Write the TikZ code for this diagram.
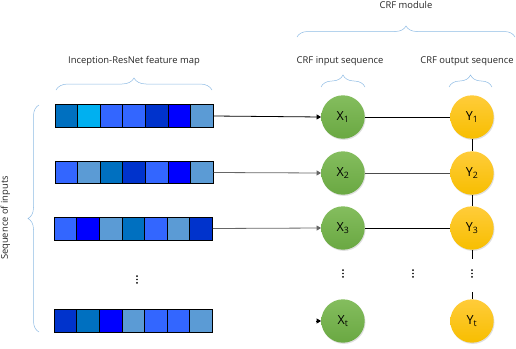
\documentclass[tikz,border=0pt]{standalone}
\usepackage{fontspec}
\setmainfont{Open Sans}
\usetikzlibrary{arrows.meta,decorations.pathreplacing,shadows}
\definecolor{cA}{HTML}{0070C0}
\definecolor{cB}{HTML}{00B0F0}
\definecolor{cC}{HTML}{3366FF}
\definecolor{cD}{HTML}{0033CC}
\definecolor{cE}{HTML}{0000FF}
\definecolor{cF}{HTML}{5B9BD5}
\definecolor{braceblue}{HTML}{8DBBE4}
\definecolor{gTop}{HTML}{84BD5E}
\definecolor{gBot}{HTML}{6AA842}
\definecolor{yTop}{HTML}{FFCC3A}
\definecolor{yBot}{HTML}{F7BE00}
\tikzset{
  cell/.style={draw=black, line width=0.9pt, inner sep=0pt, minimum width=22.6pt},
  xnode/.style={circle, minimum size=43.4pt, inner sep=0pt, top color=gTop, bottom color=gBot,
    drop shadow={shadow xshift=0.8pt, shadow yshift=-1.2pt, opacity=0.25}, font=\fontsize{12.5}{14}\selectfont},
  ynode/.style={circle, minimum size=43.4pt, inner sep=0pt, top color=yTop, bottom color=yBot,
    drop shadow={shadow xshift=0.8pt, shadow yshift=-1.2pt, opacity=0.25}, font=\fontsize{12.5}{14}\selectfont},
  lbl/.style={font=\fontsize{9.4}{11}\selectfont, text=black!85, inner sep=0pt},
  curly/.style={draw=braceblue, line width=0.5pt, decorate},
  conn/.style={draw=black, line width=0.8pt},
  arr/.style={conn, -{Triangle[length=4.5pt,width=5pt]}},
  dotmark/.style={fill=black, draw=none, circle, inner sep=0pt, minimum size=1.9pt},
}
\newcommand\featrow[5]{%
  \foreach \c [count=\i] in {#5} {
    \node[cell, fill=\c, minimum height=#4pt] (#1c\i) at ({#2+(\i-0.5)*22.6},#3) {};
  }%
}
\newcommand\vdotsat[3]{%
  \foreach \k in {-1,0,1} {
    \node[dotmark] (#1\k) at (#2,{#3+3.4*\k}) {};
  }%
}
\begin{document}
\begin{tikzpicture}[x=1pt,y=-1pt]
\useasboundingbox (0,0) rectangle (516,348);

% feature map rows
\featrow{ra}{55}{116}{23.4}{cA,cB,cC,cC,cD,cE,cF}
\featrow{rb}{55}{172.5}{21.6}{cC,cF,cA,cD,cC,cE,cF}
\featrow{rc}{54.3}{228.5}{23}{cC,cE,cF,cA,cC,cF,cD}
\featrow{rd}{54.3}{320.7}{23}{cD,cA,cE,cF,cC,cC,cF}

% CRF nodes
\node[xnode] (X1) at (343,117) {X\textsubscript{1}};
\node[xnode] (X2) at (343,173) {X\textsubscript{2}};
\node[xnode] (X3) at (343,228) {X\textsubscript{3}};
\node[xnode] (Xt) at (343,321) {X\textsubscript{t}};
\node[ynode] (Y1) at (472,117) {Y\textsubscript{1}};
\node[ynode] (Y2) at (472,173) {Y\textsubscript{2}};
\node[ynode] (Y3) at (472,228) {Y\textsubscript{3}};
\node[ynode] (Yt) at (472,321) {Y\textsubscript{t}};

% dots
\vdotsat{da}{137}{279.5}
\vdotsat{db}{343}{273.5}
\vdotsat{dc}{413}{273.5}
\vdotsat{dd}{472}{273.5}

% connectors
\draw[arr] (rac7.east) -- (X1.west);
\draw[arr, draw=black!60] (rbc7.east) -- (X2.west);
\draw[arr, draw=black!60] (rcc7.east) -- (X3.west);
\coordinate (rdin) at (316,321);
\draw[arr] (rdin) -- (Xt.west);

\draw[conn] (X1.east) -- (Y1.west);
\draw[conn, draw=black!70] (X2.east) -- (Y2.west);
\draw[conn] (X3.east) -- (Y3.west);

\draw[conn] (Y1.south) -- (Y2.north);
\draw[conn] (Y2.south) -- (Y3.north);
\coordinate (ya) at (472,259);
\coordinate (yb) at (472,292);
\draw[conn] (Y3.south) -- (ya);
\draw[conn] (yb) -- (Yt.north);

% labels
\node[lbl] (tCRF) at (406,5) {CRF module};
\node[lbl] (tInc) at (134,61) {Inception-ResNet feature map};
\node[lbl] (tIn) at (340,61) {CRF input sequence};
\node[lbl] (tOut) at (467,61) {CRF output sequence};
\node[lbl, rotate=90] (tSeq) at (5.5,218) {Sequence of inputs};

% braces
\draw[curly, decoration={brace, amplitude=11pt}] (297,37) -- (515,37);
\draw[curly, decoration={brace, amplitude=12pt}] (56,90) -- (212,90);
\draw[curly, decoration={brace, amplitude=12pt}] (321,87) -- (365,87);
\draw[curly, decoration={brace, amplitude=12pt}] (449,87) -- (492,87);
\draw[curly, decoration={brace, amplitude=11pt}] (39,332) -- (39,105);
\end{tikzpicture}
\end{document}
